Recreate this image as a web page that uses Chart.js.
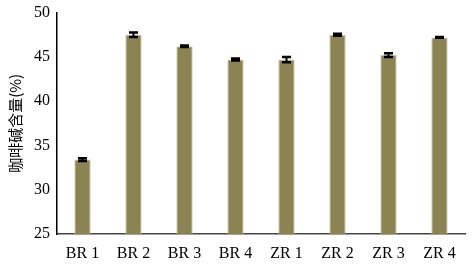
<!DOCTYPE html>
<html>
<head>
<meta charset="utf-8">
<script src="https://cdn.jsdelivr.net/npm/chart.js@4/dist/chart.umd.min.js"></script>
<style>
  html, body { margin: 0; padding: 0; background: #fff; }
  canvas { display: block; }
</style>
</head>
<body>
<canvas id="chart" width="472" height="266"></canvas>
<script>
const categories = ["BR 1", "BR 2", "BR 3", "BR 4", "ZR 1", "ZR 2", "ZR 3", "ZR 4"];
const caffeine = [33.4, 47.5, 46.2, 44.7, 44.7, 47.5, 45.2, 47.2];
const errors = [0.15, 0.25, 0.08, 0.12, 0.3, 0.12, 0.2, 0.05];
const yTicks = [25, 30, 35, 40, 45, 50];

// error bars drawn from the y scale
const errorBars = {
  id: "errorBars",
  afterDatasetsDraw(chart) {
    const { ctx, scales: { x, y } } = chart;
    ctx.save();
    ctx.strokeStyle = "#000";
    caffeine.forEach((v, i) => {
      const cx = x.getPixelForValue(i);
      const top = y.getPixelForValue(v + errors[i]);
      const bot = y.getPixelForValue(v - errors[i]);
      ctx.lineWidth = 2;
      ctx.beginPath();
      ctx.moveTo(cx, top); ctx.lineTo(cx, bot);
      ctx.stroke();
      ctx.lineWidth = 2.5;
      ctx.beginPath();
      ctx.moveTo(cx - 4.5, top); ctx.lineTo(cx + 4.5, top);
      ctx.moveTo(cx - 4.5, bot); ctx.lineTo(cx + 4.5, bot);
      ctx.stroke();
    });
    ctx.restore();
  }
};

new Chart(document.getElementById("chart"), {
  type: "bar",
  data: {
    labels: categories,
    datasets: [{
      data: caffeine,
      backgroundColor: "#8c8352",
      borderColor: "#cbc49c",
      borderWidth: 1,
      barPercentage: 0.64,
      categoryPercentage: 0.5
    }]
  },
  options: {
    responsive: false,
    animation: false,
    layout: { padding: { top: 4, right: 7, left: 0, bottom: 0 } },
    plugins: { legend: { display: false }, tooltip: { enabled: false } },
    scales: {
      x: {
        grid: { display: false, drawTicks: false },
        border: { color: "#444", width: 1.5 },
        ticks: {
          color: "#000",
          padding: 10,
          font: { family: "Liberation Serif", size: 16 }
        },
        afterFit(s) { s.height = 32; }
      },
      y: {
        min: 25,
        max: 50,
        afterBuildTicks(s) { s.ticks = yTicks.map(v => ({ value: v })); },
        grid: { display: false, drawTicks: true, tickLength: 4, tickColor: "#000", tickWidth: 1.5 },
        border: { color: "#000", width: 1.5 },
        ticks: {
          color: "#000",
          padding: 3,
          font: { family: "Liberation Serif", size: 16 }
        },
        title: {
          display: true,
          text: "咖啡碱含量(%)",
          color: "#000",
          padding: { top: 6, bottom: 0 },
          font: { family: "Noto Sans CJK SC", size: 15 }
        },
        afterFit(s) { s.width = 57; }
      }
    }
  },
  plugins: [errorBars]
});
</script>
</body>
</html>
